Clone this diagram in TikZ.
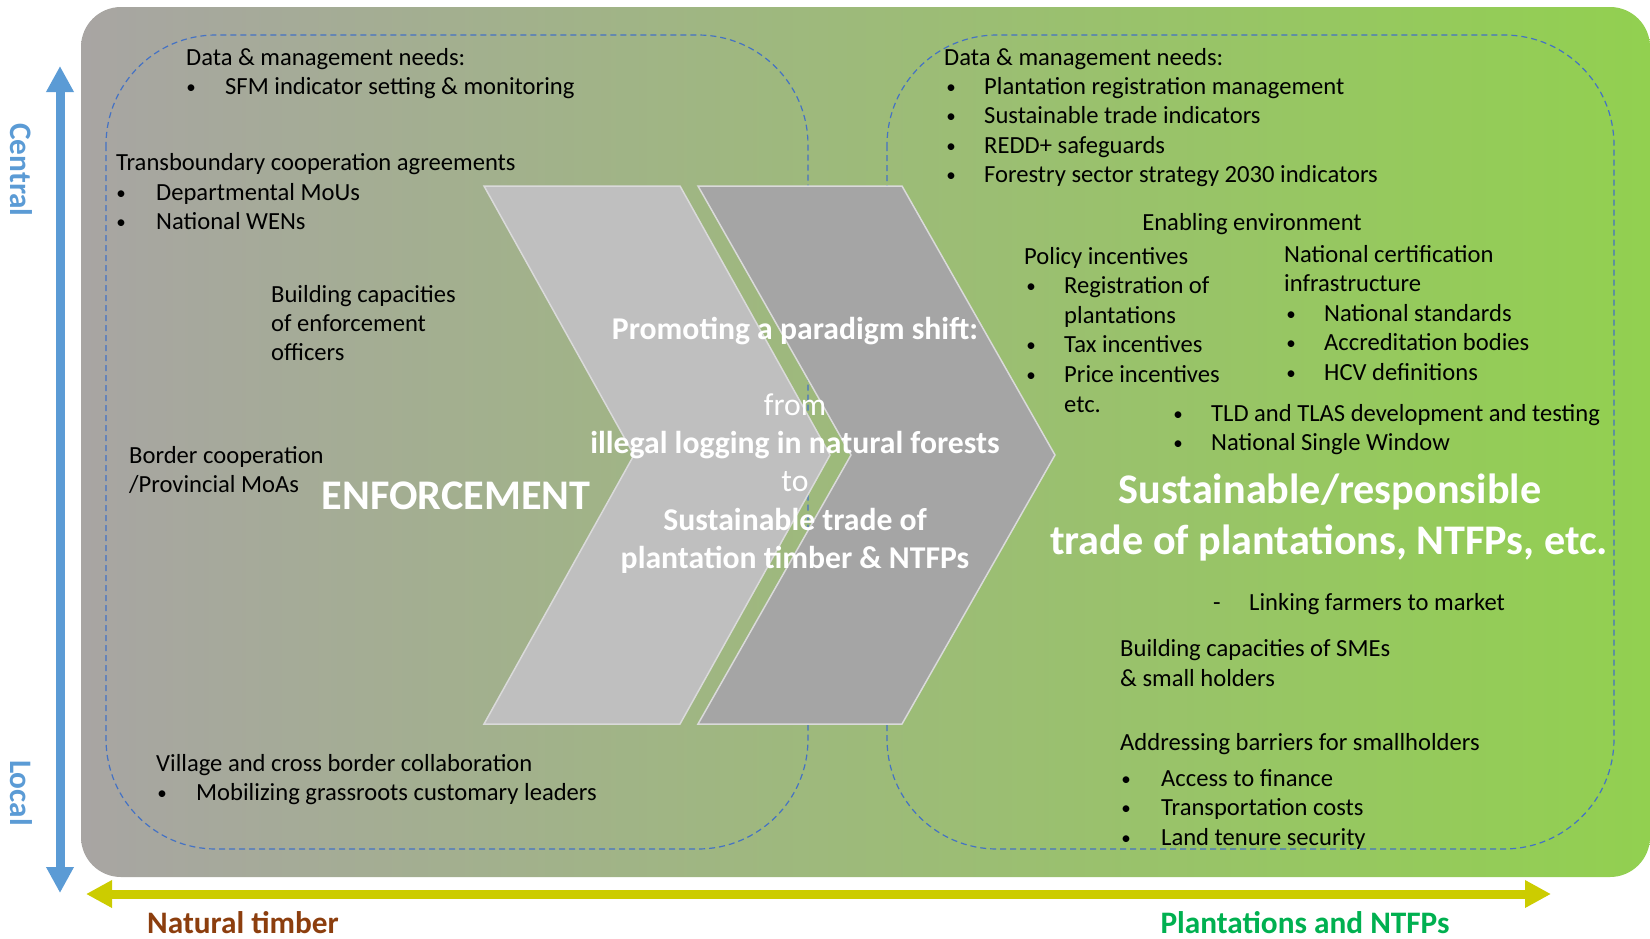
\documentclass[tikz,border=0pt]{standalone}
\usepackage{fontspec}
\setmainfont{Carlito}
\usetikzlibrary{arrows.meta}
\definecolor{bgL}{RGB}{168,165,163}
\definecolor{bgM}{RGB}{160,186,138}
\definecolor{bgR}{RGB}{146,208,80}
\definecolor{axblue}{RGB}{91,155,213}
\definecolor{axyel}{RGB}{204,204,0}
\definecolor{dashblue}{RGB}{68,114,196}
\definecolor{brownlbl}{RGB}{140,62,14}
\definecolor{greenlbl}{RGB}{0,176,80}
\definecolor{chevL}{RGB}{191,191,191}
\definecolor{chevD}{RGB}{165,165,165}
\definecolor{chevEdge}{RGB}{218,218,218}
\newcommand{\myitem}[5]{\node[bul] (#1b) at (#2,#4) {•}; \node[txt] (#1) at (#3,#4) {#5};}
\tikzset{
 txt/.style={anchor=base west, inner sep=0pt, font=\fontsize{24.6}{29}\selectfont, text=black},
 bul/.style={anchor=base, inner sep=0pt, xshift=2pt, yshift=1pt, font=\fontsize{19}{20}\selectfont, text=black},
 ctr/.style={anchor=base, inner sep=0pt, font=\fontsize{31.7}{37}\selectfont\bfseries, text=white},
 ctrreg/.style={anchor=base, inner sep=0pt, font=\fontsize{31.7}{37}\selectfont, text=white},
 big/.style={anchor=base, inner sep=0pt, font=\fontsize{42.2}{50}\selectfont\bfseries, text=white},
 axlbl/.style={inner sep=0pt, font=\fontsize{31.3}{36}\selectfont\bfseries},
 dbox/.style={draw=dashblue, dash pattern=on 6pt off 4pt, line width=1.2pt, rounded corners=110pt},
 chev/.style={draw=chevEdge, line width=1.5pt},
 axarrow/.style={line width=9pt, {Triangle[length=26pt,width=26pt]}-{Triangle[length=26pt,width=26pt]}},
}
\begin{document}
\begin{tikzpicture}[x=1pt,y=-1pt]
\useasboundingbox (0,0) rectangle (1650,938);
% background
\shade[left color=bgL, middle color=bgM, right color=bgR, rounded corners=40pt] (81,7) rectangle (1650,877);
% dashed boxes
\draw[dbox] (106,35) rectangle (808,849);
\draw[dbox] (887,35) rectangle (1614,849);
% chevrons
\draw[chev, fill=chevL] (484,186) -- (680,186) -- (830,455) -- (680,724) -- (484,724) -- (634,455) -- cycle;
\draw[chev, fill=chevD] (698,186) -- (902,186) -- (1055,455) -- (902,724) -- (698,724) -- (851,455) -- cycle;
% axes
\coordinate (cTop) at (60,66);
\coordinate (cBot) at (60,893);
\draw[axblue, axarrow] (cTop) -- (cBot);
\coordinate (hL) at (86,894);
\coordinate (hR) at (1551,894);
\draw[axyel, axarrow] (hL) -- (hR);
\node[axlbl, text=axblue, rotate=-90] (central) at (21,170) {Central};
\node[axlbl, text=axblue, rotate=-90] (local) at (21,793) {Local};
\node[axlbl, text=brownlbl, anchor=base] (nat) at (243,933) {Natural timber};
\node[axlbl, text=greenlbl, anchor=base] (plant) at (1305,933) {Plantations and NTFPs};
% left texts
\node[txt] (ldata) at (186,65) {Data \& management needs:};
\myitem{lsfm}{189}{225}{94}{SFM indicator setting \& monitoring}
\node[txt] (ltrans) at (116,170) {Transboundary cooperation agreements};
\myitem{ldep}{119}{156}{200}{Departmental MoUs}
\myitem{lwen}{119}{156}{229}{National WENs}
\node[txt] (lbc1) at (271,302) {Building capacities};
\node[txt] (lbc2) at (271,331) {of enforcement};
\node[txt] (lbc3) at (271,360) {officers};
\node[txt] (lbor1) at (129,463) {Border cooperation};
\node[txt] (lbor2) at (129,492) {/Provincial MoAs};
\node[txt] (lvil) at (156,771) {Village and cross border collaboration};
\myitem{lmob}{160}{196}{800}{Mobilizing grassroots customary leaders}
% right texts
\node[txt] (rdata) at (944,65) {Data \& management needs:};
\myitem{rpa}{949}{984}{94}{Plantation registration management}
\myitem{rpb}{949}{984}{123.5}{Sustainable trade indicators}
\myitem{rpc}{949}{984}{153}{REDD+ safeguards}
\myitem{rpd}{949}{984}{182.5}{Forestry sector strategy 2030 indicators}
\node[txt, anchor=base] (renv) at (1252,230) {Enabling environment};
\node[txt] (rpol) at (1024,264) {Policy incentives};
\myitem{rpia}{1029}{1064}{293}{Registration of}
\node[txt] (rpiat) at (1064,323) {plantations};
\myitem{rpib}{1029}{1064}{352}{Tax incentives}
\myitem{rpic}{1029}{1064}{382}{Price incentives}
\node[txt] (retc) at (1064,412) {etc.};
\node[txt] (rnca) at (1284,262) {National certification};
\node[txt] (rncb) at (1284,291) {infrastructure};
\myitem{rncc}{1289}{1324}{321}{National standards}
\myitem{rncd}{1289}{1324}{350}{Accreditation bodies}
\myitem{rnce}{1289}{1324}{380}{HCV definitions}
\myitem{rtld}{1176}{1211}{421}{TLD and TLAS development and testing}
\myitem{rnsw}{1176}{1211}{450}{National Single Window}
\node[txt] (rdash) at (1213,610) {-};
\node[txt] (rlink) at (1249,610) {Linking farmers to market};
\node[txt] (rsmea) at (1120,656) {Building capacities of SMEs};
\node[txt] (rsmeb) at (1120,686) {\& small holders};
\node[txt] (rbar) at (1120,750) {Addressing barriers for smallholders};
\myitem{rba}{1124}{1161}{786}{Access to finance}
\myitem{rbb}{1124}{1161}{815}{Transportation costs}
\myitem{rbc}{1124}{1161}{845}{Land tenure security}
% center texts
\node[ctr] (ca) at (795,339) {Promoting a paradigm shift:};
\node[ctrreg] (cb) at (795,415) {from};
\node[ctr] (cc) at (795,453) {illegal logging in natural forests};
\node[ctrreg] (cd) at (795,491) {to};
\node[ctr] (ce) at (795,530) {Sustainable trade of};
\node[ctr] (cf) at (795,568) {plantation timber \& NTFPs};
% big labels
\node[big] (enf) at (456,509) {ENFORCEMENT};
\node[big] (susa) at (1330,503) {Sustainable/responsible};
\node[big] (susb) at (1329,554) {trade of plantations, NTFPs, etc.};
\end{tikzpicture}
\end{document}
